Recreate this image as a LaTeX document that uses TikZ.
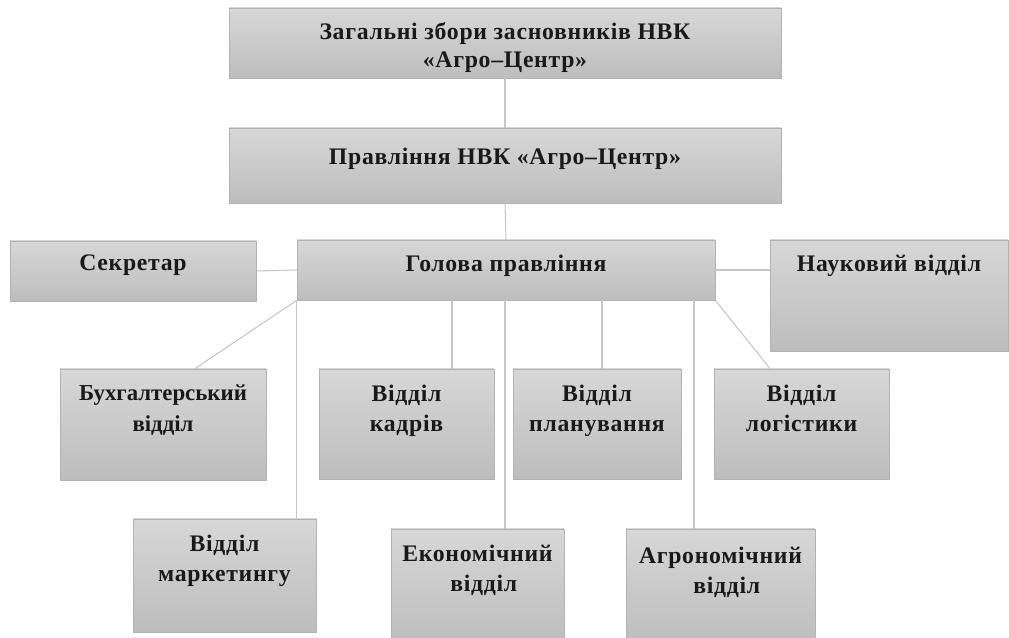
\documentclass[tikz,border=0pt]{standalone}
\usepackage{fontspec}
\setmainfont{Liberation Serif}[LetterSpace=3]
\usetikzlibrary{fit}
\definecolor{boxtop}{HTML}{D7D7D7}
\definecolor{boxbot}{HTML}{BDBDBD}
\definecolor{boxline}{HTML}{B2B2B2}
\definecolor{lineg}{HTML}{C6C6C6}
\begin{document}
\begin{tikzpicture}[x=0.02cm,y=-0.02cm,
  box/.style={draw=boxline, line width=0.5pt, top color=boxtop, bottom color=boxbot, inner sep=0pt, rectangle},
  txt/.style={font=\fontsize{13.5}{17}\selectfont\bfseries, align=center, inner sep=0pt, anchor=north, text=black!90},
  conn/.style={draw=lineg, line width=0.6pt}]
\useasboundingbox (0,0) rectangle (1009,638);
\clip (0,0) rectangle (1009,638);
% boxes
\node[box, fit={(229,8) (781,78)}] (top) {};
\node[box, fit={(229,128) (781,203)}] (prav) {};
\node[box, fit={(297,240) (715,300)}] (head) {};
\node[box, fit={(10,241) (256,301)}] (sec) {};
\node[box, fit={(770,240) (1008,351)}] (nauk) {};
\node[box, fit={(60,369) (266,480)}] (buh) {};
\node[box, fit={(319,369) (494,479)}] (kadr) {};
\node[box, fit={(513,369) (681,479)}] (plan) {};
\node[box, fit={(714,369) (889,479)}] (log) {};
\node[box, fit={(133,519) (316,632)}] (mark) {};
\node[box, fit={(391,529) (564,645)}] (econ) {};
\node[box, fit={(626,529) (815,645)}] (agro) {};
% texts
\node[txt, font=\fontsize{13.5}{16}\selectfont\bfseries] (topt) at ([yshift=-0.3cm]top.north) {Загальні збори засновників НВК\\«Агро–Центр»};
\node[txt] (pravt) at ([yshift=-0.4cm]prav.north) {Правління НВК «Агро–Центр»};
\node[txt] (headt) at ([yshift=-0.3cm]head.north) {Голова правління};
\node[txt] (sect) at ([yshift=-0.28cm]sec.north) {Секретар};
\node[txt] (naukt) at ([yshift=-0.3cm]nauk.north) {Науковий відділ};
\node[txt, font=\fontsize{13}{17.5}\selectfont\bfseries\addfontfeature{LetterSpace=0}] (buht) at ([yshift=-0.32cm]buh.north) {Бухгалтерський\\відділ};
\node[txt] (kadrt) at ([yshift=-0.32cm]kadr.north) {Відділ\\кадрів};
\node[txt] (plant) at ([yshift=-0.32cm]plan.north) {Відділ\\планування};
\node[txt] (logt) at ([yshift=-0.32cm]log.north) {Відділ\\логістики};
\node[txt] (markt) at ([yshift=-0.32cm]mark.north) {Відділ\\маркетингу};
\node[txt] (econt) at ([yshift=-0.32cm]econ.north) {Економічний\\\hspace*{0.25cm}відділ};
\node[txt] (agrot) at ([yshift=-0.36cm]agro.north) {Агрономічний\\\hspace*{0.25cm}відділ};
% connector columns
\coordinate (c1) at (452,300);
\coordinate (c2) at (505,300);
\coordinate (c3) at (602,300);
\coordinate (c4) at (694,300);
\coordinate (c5) at (770,369);
\coordinate (c6) at (195,369);
% connectors
\draw[conn] (top.south) -- (prav.north);
\draw[conn] (prav.south) -- (head.north);
\draw[conn] (sec.east) -- (head.west);
\draw[conn] (head.east) -- (head.east -| nauk.west);
\draw[conn] (head.south west) -- (buh.north -| c6);
\draw[conn] (head.south west) -- (head.south west |- mark.north);
\draw[conn] (head.south -| c1) -- (kadr.north -| c1);
\draw[conn] (head.south -| c2) -- (econ.north -| c2);
\draw[conn] (head.south -| c3) -- (plan.north -| c3);
\draw[conn] (head.south -| c4) -- (agro.north -| c4);
\draw[conn] (head.south east) -- (log.north -| c5);
\end{tikzpicture}
\end{document}
